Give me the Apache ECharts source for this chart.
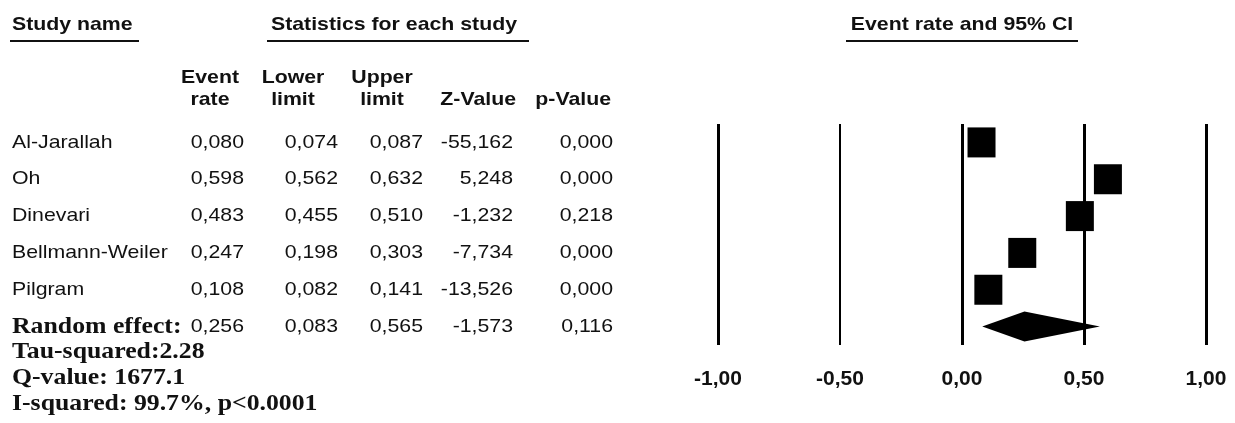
<!DOCTYPE html>
<html>
<head>
<meta charset="utf-8">
<script src="https://cdn.jsdelivr.net/npm/echarts@6/dist/echarts.min.js"></script>
<style>
  html, body { margin: 0; padding: 0; background: #fff; }
  #chart { width: 1235px; height: 423px; }
</style>
</head>
<body>
<div id="chart"></div>
<script>
// Meta-analysis of event rates: study table on the left, forest plot on the right.
const studies = ['Al-Jarallah', 'Oh', 'Dinevari', 'Bellmann-Weiler', 'Pilgram', 'Random effect:'];
const eventRate = [0.080, 0.598, 0.483, 0.247, 0.108, 0.256];
const lowerLimit = [0.074, 0.562, 0.455, 0.198, 0.082, 0.083];
const upperLimit = [0.087, 0.632, 0.510, 0.303, 0.141, 0.565];
const zValue = [-55.162, 5.248, -1.232, -7.734, -13.526, -1.573];
const pValue = [0.000, 0.000, 0.218, 0.000, 0.000, 0.116];
const axisTicks = [-1, -0.5, 0, 0.5, 1];
const heterogeneity = ['Tau-squared:2.28', 'Q-value: 1677.1', 'I-squared: 99.7%, p<0.0001'];

const SANS = 'Liberation Sans, Arial, sans-serif';
const SERIF = 'Liberation Serif, Times New Roman, serif';
const INK = '#111';
const BODY_FONT = '19px ' + SANS;
const HEAD_FONT = 'bold 19px ' + SANS;
const NOTE_FONT = 'bold 23px ' + SERIF;
const WIDEN = 1.12;          // the table lettering is set slightly wide

const fmt = (v, d) => v.toFixed(d).replace('.', ',');

const GRID_LEFT = 718;
const POOLED = studies.length - 1;
// right edges of the numeric table columns
const COLS = { rate: 244, lower: 338, upper: 423, z: 513, p: 613 };

function label(text, x, y, align, font) {
  return {
    type: 'text', x: x, y: y, scaleX: WIDEN,
    style: {
      text: text, x: 0, y: 0, font: font, fill: INK,
      align: align, textAlign: align, verticalAlign: 'middle', textVerticalAlign: 'middle'
    }
  };
}
const rule = (x1, x2, y) => ({
  type: 'line', shape: { x1: x1, y1: y, x2: x2, y2: y }, style: { stroke: INK, lineWidth: 2 }
});

const chart = echarts.init(document.getElementById('chart'), null, { renderer: 'canvas' });

chart.setOption({
  animation: false,
  backgroundColor: '#fff',
  grid: { left: GRID_LEFT, right: 29, top: 124, bottom: 78 },
  xAxis: {
    type: 'value', min: -1, max: 1, interval: 0.5,
    axisLine: { show: false }, axisTick: { show: false }, splitLine: { show: false },
    axisLabel: {
      margin: 24, color: INK, fontFamily: SANS, fontWeight: 'bold', fontSize: 21,
      formatter: v => fmt(v, 2)
    }
  },
  yAxis: {
    type: 'category', inverse: true, data: studies,
    axisLine: { show: false }, axisTick: { show: false }, splitLine: { show: false },
    axisLabel: { show: false }
  },
  series: [
    {
      // reference lines at each axis tick
      type: 'line', data: [], z: 1,
      markLine: {
        silent: true, symbol: ['none', 'none'], label: { show: false },
        data: axisTicks.map(t => ({
          xAxis: t,
          lineStyle: { color: '#000', type: 'solid', width: t === -0.5 ? 2 : 3 }
        }))
      }
    },
    {
      // study point estimates
      type: 'scatter', z: 3, symbol: 'rect', symbolSize: [28, 30],
      itemStyle: { color: '#000', opacity: 1 },
      data: studies.slice(0, POOLED).map((s, i) => [eventRate[i], s])
    },
    {
      // pooled estimate with its confidence interval
      type: 'custom', z: 3,
      data: [[lowerLimit[POOLED], eventRate[POOLED], upperLimit[POOLED], studies[POOLED]]],
      encode: { x: [0, 1, 2], y: 3 },
      renderItem: (params, api) => {
        const row = api.value(3);
        const lo = api.coord([api.value(0), row]);
        const mid = api.coord([api.value(1), row]);
        const hi = api.coord([api.value(2), row]);
        const h = 15;
        return {
          type: 'polygon',
          shape: { points: [[lo[0], lo[1]], [mid[0], mid[1] - h], [hi[0], hi[1]], [mid[0], mid[1] + h]] },
          style: { fill: '#000' }
        };
      }
    },
    {
      // statistics table, one line per study on the same rows as the plot
      type: 'custom', z: 2, silent: true, clip: false,
      data: studies.map((s, i) => [eventRate[i], s, lowerLimit[i], upperLimit[i], zValue[i], pValue[i]]),
      encode: { x: 0, y: 1 },
      renderItem: (params, api) => {
        const i = params.dataIndex;
        const y = api.coord([0, i])[1];
        const pooled = i === POOLED;
        return {
          type: 'group',
          children: [
            label(studies[i], 12, y, 'left', pooled ? NOTE_FONT : BODY_FONT),
            label(fmt(api.value(0), 3), COLS.rate, y, 'right', BODY_FONT),
            label(fmt(api.value(2), 3), COLS.lower, y, 'right', BODY_FONT),
            label(fmt(api.value(3), 3), COLS.upper, y, 'right', BODY_FONT),
            label(fmt(api.value(4), 3), COLS.z, y, 'right', BODY_FONT),
            label(fmt(api.value(5), 3), COLS.p, y, 'right', BODY_FONT)
          ]
        };
      }
    }
  ],
  graphic: [
    label('Study name', 12, 25, 'left', HEAD_FONT),
    rule(10, 139, 41),
    label('Statistics for each study', 271, 25, 'left', HEAD_FONT),
    rule(267, 529, 41),
    label('Event rate and 95% CI', 962, 25, 'center', HEAD_FONT),
    rule(846, 1078, 41),
    label('Event', 210, 78, 'center', HEAD_FONT),
    label('rate', 210, 100, 'center', HEAD_FONT),
    label('Lower', 293, 78, 'center', HEAD_FONT),
    label('limit', 293, 100, 'center', HEAD_FONT),
    label('Upper', 382, 78, 'center', HEAD_FONT),
    label('limit', 382, 100, 'center', HEAD_FONT),
    label('Z-Value', 516, 100, 'right', HEAD_FONT),
    label('p-Value', 611, 100, 'right', HEAD_FONT),
    ...heterogeneity.map((t, i) => label(t, 12, 352 + i * 26, 'left', NOTE_FONT))
  ]
});
</script>
</body>
</html>
